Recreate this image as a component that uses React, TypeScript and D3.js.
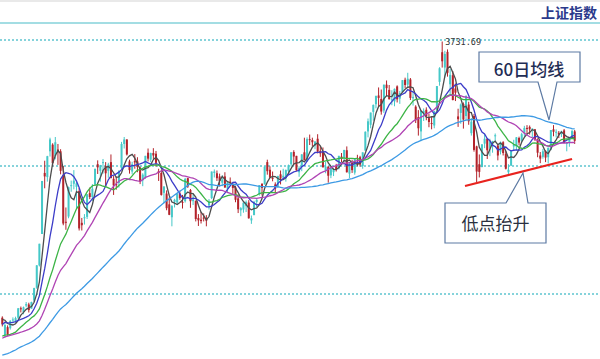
import React from 'react';
import * as d3 from 'd3';

// Closes of the 59 sessions before the first visible candle (used only to warm up the moving averages)
const historyCloses = [
  2789, 2779, 2728, 2702, 2745, 2660, 2722, 2781, 2764, 2772, 2747, 2750,
  2734, 2780, 2764, 2820, 2815, 2826, 2797, 2783, 2827, 2811, 2819, 2838, 2852, 2827, 2843, 2838, 2809, 2815, 2810, 2822, 2860,
  2878, 2871, 2895, 2894, 2891, 2898, 2870, 2868, 2875, 2898, 2883, 2867, 2814, 2818, 2846, 2837, 2836, 2852,
  2915, 2921, 2923, 2919, 2930, 2937, 2943, 2944,
];

const opens = [
  2940, 2890, 2913, 2910, 2933, 2931, 2940, 2967, 2956, 2975,
  2978, 2966, 2989, 3026, 3090, 3180, 3355, 3343, 3417, 3436,
  3404, 3422, 3417, 3348, 3215, 3230, 3320, 3324, 3315, 3303,
  3212, 3226, 3229, 3297, 3286, 3322, 3380, 3361, 3383, 3375,
  3361, 3386, 3338, 3323, 3326, 3369, 3438, 3451, 3388, 3359,
  3389, 3388, 3370, 3334, 3342, 3413, 3393, 3412, 3410, 3360,
  3355, 3298, 3296, 3265, 3228, 3272, 3270, 3296, 3272, 3274,
  3340, 3306, 3274, 3275, 3226, 3221, 3227, 3225, 3262, 3283,
  3355, 3354, 3345, 3327, 3345, 3310, 3330, 3320, 3314, 3282,
  3248, 3250, 3260, 3270, 3219, 3234, 3272, 3293, 3324, 3322,
  3386, 3364, 3341, 3322, 3318, 3351, 3342, 3340, 3360, 3380,
  3415, 3404, 3357, 3372, 3414, 3388, 3452, 3449, 3433, 3453,
  3418, 3415, 3362, 3373, 3348, 3357, 3374, 3368, 3402, 3399,
  3420, 3353, 3386, 3356, 3398, 3400, 3375, 3419, 3474, 3493,
  3530, 3552, 3577, 3567, 3534, 3608, 3593, 3566, 3560, 3603,
  3568, 3586, 3622, 3608, 3623, 3569, 3545, 3515, 3474, 3525,
  3536, 3512, 3498, 3491, 3535, 3616, 3701, 3657, 3702, 3609,
  3635, 3597, 3517, 3527, 3552, 3518, 3551, 3469, 3518, 3431,
  3380, 3372, 3439, 3453, 3426, 3437, 3460, 3434, 3416, 3443,
  3410, 3357, 3376, 3431, 3431, 3455, 3447, 3470, 3484, 3487,
  3477, 3480, 3450, 3405, 3401, 3418, 3400, 3422, 3480, 3470,
  3470, 3470, 3477, 3438, 3442, 3461, 3474,
];

const highs = [
  2944, 2925, 2918, 2933, 2941, 2943, 2968, 2972, 2972, 2985,
  2983, 2986, 3026, 3091, 3152, 3332, 3390, 3404, 3456, 3440,
  3458, 3438, 3423, 3375, 3256, 3316, 3333, 3363, 3329, 3312,
  3226, 3237, 3294, 3313, 3323, 3367, 3391, 3378, 3395, 3386,
  3384, 3408, 3346, 3344, 3363, 3444, 3458, 3451, 3393, 3387,
  3409, 3400, 3373, 3354, 3404, 3425, 3413, 3426, 3418, 3367,
  3363, 3317, 3305, 3285, 3263, 3281, 3296, 3304, 3292, 3341,
  3341, 3309, 3293, 3276, 3237, 3243, 3239, 3234, 3280, 3359,
  3365, 3362, 3353, 3348, 3357, 3328, 3342, 3325, 3318, 3294,
  3257, 3270, 3276, 3277, 3233, 3275, 3280, 3320, 3325, 3374,
  3393, 3374, 3359, 3328, 3347, 3362, 3367, 3365, 3379, 3415,
  3420, 3404, 3374, 3409, 3456, 3457, 3465, 3456, 3446, 3466,
  3432, 3428, 3387, 3374, 3370, 3369, 3381, 3404, 3412, 3421,
  3431, 3384, 3393, 3397, 3407, 3404, 3414, 3474, 3511, 3528,
  3551, 3576, 3600, 3594, 3608, 3620, 3607, 3592, 3597, 3606,
  3590, 3621, 3628, 3642, 3627, 3587, 3549, 3535, 3534, 3540,
  3543, 3525, 3515, 3533, 3604, 3658, 3731.69, 3705, 3709, 3653,
  3647, 3611, 3539, 3554, 3557, 3577, 3559, 3512, 3524, 3433,
  3408, 3437, 3466, 3454, 3453, 3447, 3468, 3434, 3445, 3446,
  3418, 3380, 3418, 3450, 3458, 3459, 3470, 3490, 3492, 3491,
  3483, 3481, 3454, 3415, 3424, 3420, 3428, 3478, 3492, 3480,
  3475, 3476, 3481, 3444, 3458, 3479, 3478,
];

const lows = [
  2915, 2883, 2888, 2906, 2924, 2925, 2936, 2955, 2950, 2970,
  2955, 2966, 2985, 3023, 3087, 3180, 3311, 3330, 3402, 3373,
  3394, 3378, 3351, 3205, 3192, 3225, 3301, 3308, 3251, 3190,
  3190, 3207, 3223, 3280, 3275, 3318, 3352, 3330, 3353, 3316,
  3341, 3340, 3292, 3307, 3313, 3366, 3425, 3405, 3353, 3351,
  3367, 3357, 3323, 3317, 3338, 3388, 3386, 3395, 3373, 3332,
  3290, 3268, 3248, 3234, 3202, 3256, 3263, 3278, 3253, 3270,
  3312, 3255, 3263, 3216, 3203, 3210, 3216, 3202, 3250, 3280,
  3342, 3332, 3316, 3317, 3313, 3297, 3321, 3295, 3271, 3240,
  3231, 3241, 3243, 3224, 3209, 3234, 3256, 3290, 3290, 3322,
  3350, 3340, 3331, 3297, 3312, 3322, 3339, 3330, 3356, 3373,
  3377, 3361, 3344, 3360, 3391, 3387, 3435, 3431, 3423, 3411,
  3401, 3371, 3354, 3327, 3340, 3346, 3359, 3365, 3385, 3388,
  3356, 3340, 3355, 3350, 3374, 3373, 3367, 3419, 3457, 3483,
  3505, 3540, 3544, 3522, 3527, 3575, 3566, 3549, 3546, 3557,
  3553, 3586, 3598, 3600, 3564, 3548, 3498, 3462, 3446, 3504,
  3506, 3486, 3480, 3483, 3533, 3605, 3657, 3628, 3631, 3580,
  3563, 3561, 3487, 3496, 3482, 3506, 3493, 3462, 3416, 3328.5,
  3342, 3371, 3426, 3395, 3403, 3413, 3444, 3391, 3408, 3405,
  3365, 3350, 3375, 3420, 3420, 3434, 3442, 3459, 3465, 3465,
  3457, 3447, 3400, 3383, 3396, 3386, 3382, 3420, 3460, 3457,
  3455, 3458, 3440, 3417, 3430, 3453, 3438,
];

const closes = [
  2921, 2919, 2890, 2931, 2935, 2939, 2967, 2965, 2970, 2979,
  2962, 2985, 3025, 3090, 3152, 3332, 3345, 3403, 3451, 3383,
  3443, 3414, 3361, 3210, 3214, 3314, 3320, 3333, 3325, 3196,
  3205, 3228, 3294, 3286, 3310, 3367, 3371, 3377, 3386, 3354,
  3379, 3340, 3319, 3320, 3360, 3438, 3451, 3408, 3363, 3380,
  3385, 3373, 3329, 3350, 3404, 3396, 3412, 3405, 3384, 3355,
  3292, 3316, 3254, 3235, 3260, 3278, 3295, 3283, 3270, 3338,
  3316, 3274, 3279, 3223, 3219, 3217, 3224, 3218, 3272, 3359,
  3359, 3340, 3332, 3336, 3313, 3328, 3325, 3312, 3278, 3251,
  3254, 3270, 3272, 3225, 3225, 3272, 3278, 3320, 3312, 3373,
  3360, 3342, 3338, 3310, 3346, 3339, 3347, 3363, 3377, 3414,
  3402, 3362, 3369, 3408, 3392, 3452, 3449, 3443, 3445, 3416,
  3411, 3371, 3373, 3347, 3369, 3367, 3366, 3404, 3395, 3421,
  3357, 3383, 3363, 3397, 3397, 3379, 3414, 3473, 3503, 3528,
  3550, 3576, 3570, 3531, 3608, 3598, 3566, 3566, 3596, 3566,
  3584, 3621, 3607, 3625, 3570, 3573, 3506, 3483, 3533, 3533,
  3518, 3501, 3496, 3532, 3604, 3655, 3675, 3696, 3642, 3636,
  3564, 3585, 3509, 3551, 3508, 3576, 3503, 3502, 3421, 3359,
  3358, 3437, 3453, 3420, 3447, 3446, 3463, 3405, 3443, 3412,
  3367, 3364, 3418, 3435, 3457, 3442, 3466, 3484, 3483, 3480,
  3482, 3451, 3413, 3396, 3417, 3399, 3427, 3478, 3473, 3473,
  3465, 3474, 3441, 3443, 3457, 3475, 3447,
];

const maPeriods = [5, 10, 20, 30, 60];
const maColors = ['#4d4d4d', '#3c3cc8', '#3cb446', '#b044b4', '#3d9ae4'];
const gridLevels = [3736, 3375, 3008];
// rising-lows trend line: [candle index, price]
const trendStart = [174.6, 3317.5];
const trendEnd = [215, 3395];
const titleText = '上证指数';
const maCalloutText = '60日均线';
const lowsCalloutText = '低点抬升';

export default function App() {
  const W = 600;
  const H = 359;
  const n = closes.length;
  const x = d3.scaleLinear().domain([0, n - 1]).range([2.3, 574.7]);
  const y = d3.scaleLinear().domain([3008, 3736]).range([294, 40]);

  const all = historyCloses.concat(closes);
  const off = historyCloses.length;
  const mas = maPeriods.map((p) =>
    closes.map((_, i) => d3.mean(all.slice(i + off - p + 1, i + off + 1)) as number)
  );
  const line = d3
    .line<number>()
    .x((_, i) => x(i))
    .y((v) => y(v));

  const peakIdx = d3.maxIndex(highs);
  const up = '#45c8c8';
  const down = '#b3222a';

  return (
    <svg
      width={W}
      height={H}
      viewBox={`0 0 ${W} ${H}`}
      style={{ position: 'fixed', left: 0, top: 0, background: '#fff' }}
    >
      <rect x={0} y={0} width={W} height={H} fill="#fff" />
      <rect x={0} y={0} width={W} height={2} fill="#e9e9e9" />
      <text
        x={597}
        y={18}
        textAnchor="end"
        fontFamily="'Noto Sans CJK SC', sans-serif"
        fontWeight="bold"
        fontSize={14}
        fill="#2b3a8c"
      >
        {titleText}
      </text>
      <line x1={0} x2={W} y1={23} y2={23} stroke="#a3dde3" strokeWidth={2} />
      {gridLevels.map((g) => (
        <line
          key={g}
          x1={0}
          x2={W}
          y1={y(g)}
          y2={y(g)}
          stroke="#86d3db"
          strokeWidth={2}
          strokeDasharray="2 2"
        />
      ))}

      {closes.map((c, i) => {
        const o = opens[i];
        const col = c >= o ? up : down;
        const top = y(Math.max(o, c));
        const h = Math.max(1, Math.abs(y(o) - y(c)));
        return (
          <g key={i}>
            <line x1={x(i)} x2={x(i)} y1={y(highs[i])} y2={y(lows[i])} stroke={col} strokeWidth={1} />
            <rect x={x(i) - 1} y={top} width={2} height={h} fill={col} />
          </g>
        );
      })}

      {mas.map((m, k) => (
        <path key={k} d={line(m) || ''} fill="none" stroke={maColors[k]} strokeWidth={1.3} />
      ))}

      <line
        x1={x(trendStart[0])}
        y1={y(trendStart[1])}
        x2={x(trendEnd[0])}
        y2={y(trendEnd[1])}
        stroke="#e8231e"
        strokeWidth={2.2}
      />

      <text
        x={x(peakIdx) + 3}
        y={y(highs[peakIdx]) + 3}
        fontFamily="'DejaVu Sans Mono', monospace"
        fontSize={8.5}
        fill="#333"
      >
        {highs[peakIdx].toFixed(2)}
      </text>

      <path
        d="M479,52 H580 V82 H557 L549,120 L538,82 H479 Z"
        fill="#fff"
        stroke="#5d7aa3"
        strokeWidth={1.2}
      />
      <text
        x={529}
        y={68}
        textAnchor="middle"
        dominantBaseline="central"
        fontFamily="'Noto Sans CJK SC', sans-serif"
        fontSize={17}
        fontWeight={500}
        fill="#1f2d55"
      >
        {maCalloutText}
      </text>

      <path
        d="M445,203 H506 L523,173 L528,203 H546 V243 H445 Z"
        fill="#fff"
        stroke="#5d7aa3"
        strokeWidth={1.2}
      />
      <text
        x={495.5}
        y={222}
        textAnchor="middle"
        dominantBaseline="central"
        fontFamily="'Noto Sans CJK SC', sans-serif"
        fontSize={17}
        fill="#2a3040"
      >
        {lowsCalloutText}
      </text>
    </svg>
  );
}
